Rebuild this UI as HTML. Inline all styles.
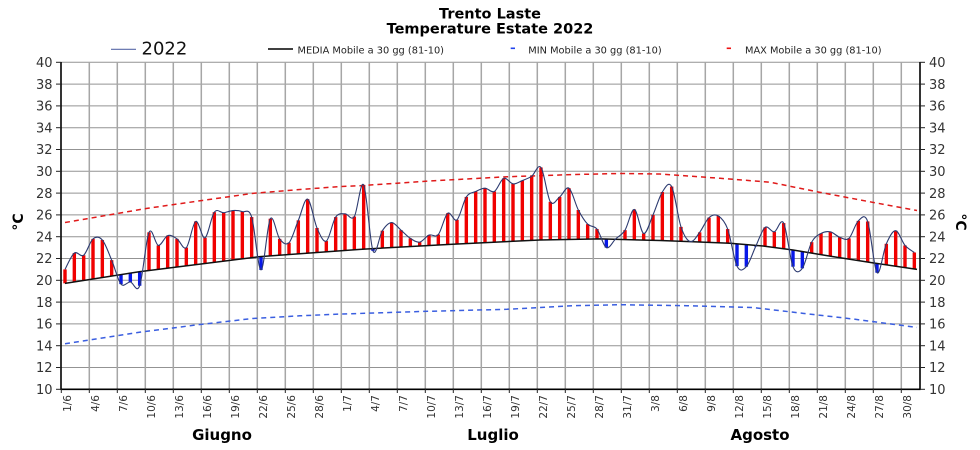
<!DOCTYPE html>
<html><head><meta charset="utf-8"><style>
html,body{margin:0;padding:0;background:#fff;}
svg{display:block;}
text{font-family:"DejaVu Sans","Liberation Sans",sans-serif;}
</style></head><body>
<svg width="980" height="450" viewBox="0 0 980 450" xmlns="http://www.w3.org/2000/svg">
<rect width="980" height="450" fill="#fff"/>
<!-- title -->
<text x="490" y="18.5" text-anchor="middle" font-size="14.5" font-weight="bold" fill="#000">Trento Laste</text>
<text x="490" y="33.5" text-anchor="middle" font-size="14.5" font-weight="bold" fill="#000">Temperature Estate 2022</text>
<!-- legend -->
<line x1="111" y1="49.3" x2="136" y2="49.3" stroke="#5a6aa8" stroke-width="1.2"/>
<text x="141.5" y="54.5" font-size="18" fill="#111">2022</text>
<line x1="268" y1="49" x2="293" y2="49" stroke="#000" stroke-width="1.5"/>
<text x="297.5" y="53.3" font-size="9.8" fill="#222">MEDIA Mobile a 30 gg (81-10)</text>
<line x1="510.7" y1="48.3" x2="515" y2="48.3" stroke="#2244ee" stroke-width="1.6"/>
<text x="528.3" y="53.3" font-size="9.8" fill="#222">MIN Mobile a 30 gg (81-10)</text>
<line x1="726.7" y1="48.3" x2="731" y2="48.3" stroke="#ee1111" stroke-width="1.6"/>
<text x="745" y="53.3" font-size="9.8" fill="#222">MAX Mobile a 30 gg (81-10)</text>

<!-- horizontal grid -->
<g stroke="#939393" stroke-width="1">
<line x1="61" y1="62.3" x2="920" y2="62.3"/>
<line x1="61" y1="84.1" x2="920" y2="84.1"/>
<line x1="61" y1="105.9" x2="920" y2="105.9"/>
<line x1="61" y1="127.7" x2="920" y2="127.7"/>
<line x1="61" y1="149.5" x2="920" y2="149.5"/>
<line x1="61" y1="171.3" x2="920" y2="171.3"/>
<line x1="61" y1="193.1" x2="920" y2="193.1"/>
<line x1="61" y1="214.9" x2="920" y2="214.9"/>
<line x1="61" y1="236.7" x2="920" y2="236.7"/>
<line x1="61" y1="258.5" x2="920" y2="258.5"/>
<line x1="61" y1="280.3" x2="920" y2="280.3"/>
<line x1="61" y1="302.1" x2="920" y2="302.1"/>
<line x1="61" y1="323.9" x2="920" y2="323.9"/>
<line x1="61" y1="345.7" x2="920" y2="345.7"/>
<line x1="61" y1="367.5" x2="920" y2="367.5"/>
</g>
<!-- vertical grid -->
<g stroke="#a6a6a6" stroke-width="1.5">
<line x1="89.3" y1="62" x2="89.3" y2="389"/>
<line x1="117.3" y1="62" x2="117.3" y2="389"/>
<line x1="145.3" y1="62" x2="145.3" y2="389"/>
<line x1="173.3" y1="62" x2="173.3" y2="389"/>
<line x1="201.3" y1="62" x2="201.3" y2="389"/>
<line x1="229.3" y1="62" x2="229.3" y2="389"/>
<line x1="257.3" y1="62" x2="257.3" y2="389"/>
<line x1="285.3" y1="62" x2="285.3" y2="389"/>
<line x1="313.3" y1="62" x2="313.3" y2="389"/>
<line x1="341.3" y1="62" x2="341.3" y2="389"/>
<line x1="369.3" y1="62" x2="369.3" y2="389"/>
<line x1="397.3" y1="62" x2="397.3" y2="389"/>
<line x1="425.3" y1="62" x2="425.3" y2="389"/>
<line x1="453.3" y1="62" x2="453.3" y2="389"/>
<line x1="481.3" y1="62" x2="481.3" y2="389"/>
<line x1="509.3" y1="62" x2="509.3" y2="389"/>
<line x1="537.3" y1="62" x2="537.3" y2="389"/>
<line x1="565.3" y1="62" x2="565.3" y2="389"/>
<line x1="593.3" y1="62" x2="593.3" y2="389"/>
<line x1="621.3" y1="62" x2="621.3" y2="389"/>
<line x1="649.3" y1="62" x2="649.3" y2="389"/>
<line x1="677.3" y1="62" x2="677.3" y2="389"/>
<line x1="705.3" y1="62" x2="705.3" y2="389"/>
<line x1="733.3" y1="62" x2="733.3" y2="389"/>
<line x1="761.3" y1="62" x2="761.3" y2="389"/>
<line x1="789.3" y1="62" x2="789.3" y2="389"/>
<line x1="817.3" y1="62" x2="817.3" y2="389"/>
<line x1="845.3" y1="62" x2="845.3" y2="389"/>
<line x1="873.3" y1="62" x2="873.3" y2="389"/>
<line x1="901.3" y1="62" x2="901.3" y2="389"/>
</g>

<!-- MIN / MAX dashed -->
<polyline fill="none" stroke="#3a5ee0" stroke-width="1.5" stroke-dasharray="5,4" points="65,343.74 143,331.75 200,324.5 253,318.45 300,315.8 340,314.09 420,311.5 507,309.29 573,305.7 620,304.72 687,305.7 753,307.55 803,313.33 853,319 917,327.4"/>
<polyline fill="none" stroke="#e01a1a" stroke-width="1.5" stroke-dasharray="5,4" points="65,222.53 147,208.36 200,200.8 253,193.32 300,189.5 340,186.56 360,185.69 430,181 507,176.75 573,174.57 620,173.48 660,174.03 720,178.28 770,182.2 820,192.34 870,201.82 917,210.54"/>

<!-- bars -->
<g fill="#f00000">
<rect x="63.3" y="269.4" width="3.4" height="13.95"/>
<rect x="72.63" y="253.05" width="3.4" height="28.84"/>
<rect x="81.97" y="255.23" width="3.4" height="25.19"/>
<rect x="91.3" y="238.88" width="3.4" height="40.08"/>
<rect x="100.63" y="239.97" width="3.4" height="37.53"/>
<rect x="109.97" y="260.13" width="3.4" height="15.9"/>
<rect x="147.3" y="232.34" width="3.4" height="38.12"/>
<rect x="156.63" y="245.42" width="3.4" height="23.88"/>
<rect x="165.97" y="235.61" width="3.4" height="32.53"/>
<rect x="175.3" y="238.88" width="3.4" height="28.1"/>
<rect x="184.63" y="247.6" width="3.4" height="18.22"/>
<rect x="193.97" y="221.44" width="3.4" height="43.22"/>
<rect x="203.3" y="237.79" width="3.4" height="25.71"/>
<rect x="212.63" y="212.17" width="3.4" height="50.17"/>
<rect x="221.97" y="212.72" width="3.4" height="48.46"/>
<rect x="231.3" y="210.54" width="3.4" height="49.48"/>
<rect x="240.63" y="211.63" width="3.4" height="47.23"/>
<rect x="249.97" y="217.08" width="3.4" height="40.62"/>
<rect x="268.63" y="218.72" width="3.4" height="37.18"/>
<rect x="277.97" y="238.88" width="3.4" height="16.33"/>
<rect x="287.3" y="242.7" width="3.4" height="11.83"/>
<rect x="296.63" y="220.35" width="3.4" height="33.5"/>
<rect x="305.97" y="199.09" width="3.4" height="54.08"/>
<rect x="315.3" y="227.98" width="3.4" height="24.51"/>
<rect x="324.63" y="241.06" width="3.4" height="10.75"/>
<rect x="333.97" y="217.08" width="3.4" height="34.05"/>
<rect x="343.3" y="213.81" width="3.4" height="36.64"/>
<rect x="352.63" y="216.54" width="3.4" height="33.22"/>
<rect x="361.97" y="184.92" width="3.4" height="64.22"/>
<rect x="380.63" y="230.71" width="3.4" height="17.39"/>
<rect x="389.97" y="222.53" width="3.4" height="25.05"/>
<rect x="399.3" y="230.16" width="3.4" height="16.9"/>
<rect x="408.63" y="238.34" width="3.4" height="8.21"/>
<rect x="417.97" y="242.15" width="3.4" height="3.88"/>
<rect x="427.3" y="235.07" width="3.4" height="10.44"/>
<rect x="436.63" y="234.52" width="3.4" height="10.47"/>
<rect x="445.97" y="213.27" width="3.4" height="31.19"/>
<rect x="455.3" y="219.81" width="3.4" height="24.18"/>
<rect x="464.63" y="196.91" width="3.4" height="46.63"/>
<rect x="473.97" y="191.47" width="3.4" height="51.62"/>
<rect x="483.3" y="188.2" width="3.4" height="54.44"/>
<rect x="492.63" y="191.47" width="3.4" height="50.72"/>
<rect x="501.97" y="178.38" width="3.4" height="63.35"/>
<rect x="511.3" y="183.84" width="3.4" height="57.44"/>
<rect x="520.63" y="180.57" width="3.4" height="60.26"/>
<rect x="529.97" y="176.21" width="3.4" height="64.16"/>
<rect x="539.3" y="167.48" width="3.4" height="72.47"/>
<rect x="548.63" y="201.82" width="3.4" height="37.96"/>
<rect x="557.97" y="196.91" width="3.4" height="42.7"/>
<rect x="567.3" y="188.2" width="3.4" height="51.24"/>
<rect x="576.63" y="210" width="3.4" height="29.27"/>
<rect x="585.97" y="224.17" width="3.4" height="14.93"/>
<rect x="595.3" y="229.07" width="3.4" height="9.86"/>
<rect x="623.3" y="230.16" width="3.4" height="9.4"/>
<rect x="632.63" y="209.45" width="3.4" height="30.36"/>
<rect x="641.97" y="233.43" width="3.4" height="6.63"/>
<rect x="651.3" y="214.9" width="3.4" height="25.41"/>
<rect x="660.63" y="192.01" width="3.4" height="48.58"/>
<rect x="669.97" y="186.56" width="3.4" height="54.37"/>
<rect x="679.3" y="226.89" width="3.4" height="14.38"/>
<rect x="697.97" y="232.34" width="3.4" height="9.66"/>
<rect x="707.3" y="217.63" width="3.4" height="24.75"/>
<rect x="716.63" y="215.99" width="3.4" height="26.77"/>
<rect x="725.97" y="229.07" width="3.4" height="14.07"/>
<rect x="763.3" y="227.44" width="3.4" height="18.8"/>
<rect x="772.63" y="231.8" width="3.4" height="15.69"/>
<rect x="781.97" y="223.08" width="3.4" height="25.67"/>
<rect x="809.97" y="242.15" width="3.4" height="10.95"/>
<rect x="819.3" y="233.43" width="3.4" height="21.23"/>
<rect x="828.63" y="231.8" width="3.4" height="24.41"/>
<rect x="837.97" y="237.25" width="3.4" height="20.44"/>
<rect x="847.3" y="238.34" width="3.4" height="20.79"/>
<rect x="856.63" y="220.9" width="3.4" height="39.68"/>
<rect x="865.97" y="221.44" width="3.4" height="40.59"/>
<rect x="884.63" y="243.79" width="3.4" height="21.05"/>
<rect x="893.97" y="230.71" width="3.4" height="35.52"/>
<rect x="903.3" y="245.42" width="3.4" height="22.19"/>
<rect x="912.63" y="252.5" width="3.4" height="16.5"/>
</g>
<g fill="#0818e8">
<rect x="119.3" y="274.57" width="3.4" height="9.54"/>
<rect x="128.63" y="273.11" width="3.4" height="8.83"/>
<rect x="137.97" y="271.63" width="3.4" height="14.12"/>
<rect x="259.3" y="256.58" width="3.4" height="13.36"/>
<rect x="371.3" y="248.62" width="3.4" height="2.25"/>
<rect x="604.63" y="239.05" width="3.4" height="8.55"/>
<rect x="735.3" y="243.82" width="3.4" height="22.31"/>
<rect x="744.63" y="244.59" width="3.4" height="22.09"/>
<rect x="753.97" y="245.36" width="3.4" height="1.15"/>
<rect x="791.3" y="250" width="3.4" height="16.68"/>
<rect x="800.63" y="251.55" width="3.4" height="16.76"/>
<rect x="875.3" y="263.45" width="3.4" height="9.22"/>
</g>

<!-- MEDIA line -->
<polyline fill="none" stroke="#111" stroke-width="1.5" stroke-linejoin="round" points="65,283.35 140,271.58 260,256.65 360,249.34 450,244.33 540,239.97 600,238.88 660,240.5 690,241.6 730,243.24 763,245.97 793,250 833,256.65 873,262.86 917,269.4"/>

<!-- 2022 line -->
<polyline id="l2022" fill="none" stroke="#2c3a70" stroke-width="1.1" stroke-linejoin="round" points="65,269.4 74.33,253.05 83.67,255.23 93,238.88 102.33,239.97 111.67,260.13 121,284.11 130.33,281.94 139.67,285.75 149,232.34 158.33,245.42 167.67,235.61 177,238.88 186.33,247.6 195.67,221.44 205,237.79 214.33,212.17 223.67,212.72 233,210.54 242.33,211.63 251.67,217.08 261,269.94 270.33,218.72 279.67,238.88 289,242.7 298.33,220.35 307.67,199.09 317,227.98 326.33,241.06 335.67,217.08 345,213.81 354.33,216.54 363.67,184.92 373,250.87 382.33,230.71 391.67,222.53 401,230.16 410.33,238.34 419.67,242.15 429,235.07 438.33,234.52 447.67,213.27 457,219.81 466.33,196.91 475.67,191.47 485,188.2 494.33,191.47 503.67,178.38 513,183.84 522.33,180.57 531.67,176.21 541,167.48 550.33,201.82 559.67,196.91 569,188.2 578.33,210 587.67,224.17 597,229.07 606.33,247.6 615.67,238.88 625,230.16 634.33,209.45 643.67,233.43 653,214.9 662.33,192.01 671.67,186.56 681,226.89 690.33,241.6 699.67,232.34 709,217.63 718.33,215.99 727.67,229.07 737,266.13 746.33,266.68 755.67,246.51 765,227.44 774.33,231.8 783.67,223.08 793,266.68 802.33,268.31 811.67,242.15 821,233.43 830.33,231.8 839.67,237.25 849,238.34 858.33,220.9 867.67,221.44 877,272.67 886.33,243.79 895.67,230.71 905,245.42 914.33,252.5"/>
<path id="s2022" fill="none" stroke="#2c3a70" stroke-width="1.1" d=""/>

<!-- axes -->
<g stroke="#000" stroke-width="1.6">
<line x1="61" y1="62" x2="61" y2="390"/>
<line x1="920" y1="62" x2="920" y2="390"/>
<line x1="60.5" y1="389.3" x2="920.5" y2="389.3"/>
</g>
<g stroke="#222" stroke-width="1">
<line x1="56" y1="62.3" x2="61" y2="62.3"/><line x1="56" y1="84.1" x2="61" y2="84.1"/><line x1="56" y1="105.9" x2="61" y2="105.9"/><line x1="56" y1="127.7" x2="61" y2="127.7"/><line x1="56" y1="149.5" x2="61" y2="149.5"/><line x1="56" y1="171.3" x2="61" y2="171.3"/><line x1="56" y1="193.1" x2="61" y2="193.1"/><line x1="56" y1="214.9" x2="61" y2="214.9"/><line x1="56" y1="236.7" x2="61" y2="236.7"/><line x1="56" y1="258.5" x2="61" y2="258.5"/><line x1="56" y1="280.3" x2="61" y2="280.3"/><line x1="56" y1="302.1" x2="61" y2="302.1"/><line x1="56" y1="323.9" x2="61" y2="323.9"/><line x1="56" y1="345.7" x2="61" y2="345.7"/><line x1="56" y1="367.5" x2="61" y2="367.5"/><line x1="56" y1="389.3" x2="61" y2="389.3"/>
<line x1="920" y1="62.3" x2="925" y2="62.3"/><line x1="920" y1="84.1" x2="925" y2="84.1"/><line x1="920" y1="105.9" x2="925" y2="105.9"/><line x1="920" y1="127.7" x2="925" y2="127.7"/><line x1="920" y1="149.5" x2="925" y2="149.5"/><line x1="920" y1="171.3" x2="925" y2="171.3"/><line x1="920" y1="193.1" x2="925" y2="193.1"/><line x1="920" y1="214.9" x2="925" y2="214.9"/><line x1="920" y1="236.7" x2="925" y2="236.7"/><line x1="920" y1="258.5" x2="925" y2="258.5"/><line x1="920" y1="280.3" x2="925" y2="280.3"/><line x1="920" y1="302.1" x2="925" y2="302.1"/><line x1="920" y1="323.9" x2="925" y2="323.9"/><line x1="920" y1="345.7" x2="925" y2="345.7"/><line x1="920" y1="367.5" x2="925" y2="367.5"/><line x1="920" y1="389.3" x2="925" y2="389.3"/>
</g>
<g stroke="#222" stroke-width="1">
<line x1="61.3" y1="389" x2="61.3" y2="393"/><line x1="89.3" y1="389" x2="89.3" y2="393"/><line x1="117.3" y1="389" x2="117.3" y2="393"/><line x1="145.3" y1="389" x2="145.3" y2="393"/><line x1="173.3" y1="389" x2="173.3" y2="393"/><line x1="201.3" y1="389" x2="201.3" y2="393"/><line x1="229.3" y1="389" x2="229.3" y2="393"/><line x1="257.3" y1="389" x2="257.3" y2="393"/><line x1="285.3" y1="389" x2="285.3" y2="393"/><line x1="313.3" y1="389" x2="313.3" y2="393"/><line x1="341.3" y1="389" x2="341.3" y2="393"/><line x1="369.3" y1="389" x2="369.3" y2="393"/><line x1="397.3" y1="389" x2="397.3" y2="393"/><line x1="425.3" y1="389" x2="425.3" y2="393"/><line x1="453.3" y1="389" x2="453.3" y2="393"/><line x1="481.3" y1="389" x2="481.3" y2="393"/><line x1="509.3" y1="389" x2="509.3" y2="393"/><line x1="537.3" y1="389" x2="537.3" y2="393"/><line x1="565.3" y1="389" x2="565.3" y2="393"/><line x1="593.3" y1="389" x2="593.3" y2="393"/><line x1="621.3" y1="389" x2="621.3" y2="393"/><line x1="649.3" y1="389" x2="649.3" y2="393"/><line x1="677.3" y1="389" x2="677.3" y2="393"/><line x1="705.3" y1="389" x2="705.3" y2="393"/><line x1="733.3" y1="389" x2="733.3" y2="393"/><line x1="761.3" y1="389" x2="761.3" y2="393"/><line x1="789.3" y1="389" x2="789.3" y2="393"/><line x1="817.3" y1="389" x2="817.3" y2="393"/><line x1="845.3" y1="389" x2="845.3" y2="393"/><line x1="873.3" y1="389" x2="873.3" y2="393"/><line x1="901.3" y1="389" x2="901.3" y2="393"/>
</g>

<!-- y labels left -->
<g font-size="13" fill="#333" text-anchor="end">
<text x="52.5" y="67">40</text><text x="52.5" y="88.8">38</text><text x="52.5" y="110.6">36</text><text x="52.5" y="132.4">34</text><text x="52.5" y="154.2">32</text><text x="52.5" y="176">30</text><text x="52.5" y="197.8">28</text><text x="52.5" y="219.6">26</text><text x="52.5" y="241.4">24</text><text x="52.5" y="263.2">22</text><text x="52.5" y="285">20</text><text x="52.5" y="306.8">18</text><text x="52.5" y="328.6">16</text><text x="52.5" y="350.4">14</text><text x="52.5" y="372.2">12</text><text x="52.5" y="394">10</text>
</g>
<g font-size="13" fill="#333" text-anchor="start">
<text x="929" y="67">40</text><text x="929" y="88.8">38</text><text x="929" y="110.6">36</text><text x="929" y="132.4">34</text><text x="929" y="154.2">32</text><text x="929" y="176">30</text><text x="929" y="197.8">28</text><text x="929" y="219.6">26</text><text x="929" y="241.4">24</text><text x="929" y="263.2">22</text><text x="929" y="285">20</text><text x="929" y="306.8">18</text><text x="929" y="328.6">16</text><text x="929" y="350.4">14</text><text x="929" y="372.2">12</text><text x="929" y="394">10</text>
</g>
<text transform="translate(23,222) rotate(-90)" text-anchor="middle" font-size="14" font-weight="bold" fill="#000">°C</text>
<text transform="translate(956,222) rotate(90)" text-anchor="middle" font-size="14" font-weight="bold" fill="#000">°C</text>

<!-- x labels -->
<g font-size="10.5" fill="#333" text-anchor="end">
<text transform="translate(70.8,395) rotate(-90)">1/6</text>
<text transform="translate(98.8,395) rotate(-90)">4/6</text>
<text transform="translate(126.8,395) rotate(-90)">7/6</text>
<text transform="translate(154.8,395) rotate(-90)">10/6</text>
<text transform="translate(182.8,395) rotate(-90)">13/6</text>
<text transform="translate(210.8,395) rotate(-90)">16/6</text>
<text transform="translate(238.8,395) rotate(-90)">19/6</text>
<text transform="translate(266.8,395) rotate(-90)">22/6</text>
<text transform="translate(294.8,395) rotate(-90)">25/6</text>
<text transform="translate(322.8,395) rotate(-90)">28/6</text>
<text transform="translate(350.8,395) rotate(-90)">1/7</text>
<text transform="translate(378.8,395) rotate(-90)">4/7</text>
<text transform="translate(406.8,395) rotate(-90)">7/7</text>
<text transform="translate(434.8,395) rotate(-90)">10/7</text>
<text transform="translate(462.8,395) rotate(-90)">13/7</text>
<text transform="translate(490.8,395) rotate(-90)">16/7</text>
<text transform="translate(518.8,395) rotate(-90)">19/7</text>
<text transform="translate(546.8,395) rotate(-90)">22/7</text>
<text transform="translate(574.8,395) rotate(-90)">25/7</text>
<text transform="translate(602.8,395) rotate(-90)">28/7</text>
<text transform="translate(630.8,395) rotate(-90)">31/7</text>
<text transform="translate(658.8,395) rotate(-90)">3/8</text>
<text transform="translate(686.8,395) rotate(-90)">6/8</text>
<text transform="translate(714.8,395) rotate(-90)">9/8</text>
<text transform="translate(742.8,395) rotate(-90)">12/8</text>
<text transform="translate(770.8,395) rotate(-90)">15/8</text>
<text transform="translate(798.8,395) rotate(-90)">18/8</text>
<text transform="translate(826.8,395) rotate(-90)">21/8</text>
<text transform="translate(854.8,395) rotate(-90)">24/8</text>
<text transform="translate(882.8,395) rotate(-90)">27/8</text>
<text transform="translate(910.8,395) rotate(-90)">30/8</text>
</g>

<!-- months -->
<g font-size="15" font-weight="bold" fill="#000" text-anchor="middle">
<text x="222" y="440">Giugno</text>
<text x="493" y="440">Luglio</text>
<text x="760" y="440">Agosto</text>
</g>
</svg>
<script>
(function(){
  try{
    var pl=document.getElementById('l2022');
    var pts=pl.getAttribute('points').trim().split(/\s+/).map(function(s){var a=s.split(',');return [parseFloat(a[0]),parseFloat(a[1])];});
    var d='M'+pts[0][0]+','+pts[0][1];
    for(var i=0;i<pts.length-1;i++){
      var p0=pts[i>0?i-1:i],p1=pts[i],p2=pts[i+1],p3=pts[i+2<pts.length?i+2:i+1];
      var c1x=p1[0]+(p2[0]-p0[0])/6,c1y=p1[1]+(p2[1]-p0[1])/6;
      var c2x=p2[0]-(p3[0]-p1[0])/6,c2y=p2[1]-(p3[1]-p1[1])/6;
      d+=' C'+c1x.toFixed(2)+','+c1y.toFixed(2)+' '+c2x.toFixed(2)+','+c2y.toFixed(2)+' '+p2[0]+','+p2[1];
    }
    document.getElementById('s2022').setAttribute('d',d);
    pl.setAttribute('stroke','none');
  }catch(e){}
})();
</script>
</body></html>
